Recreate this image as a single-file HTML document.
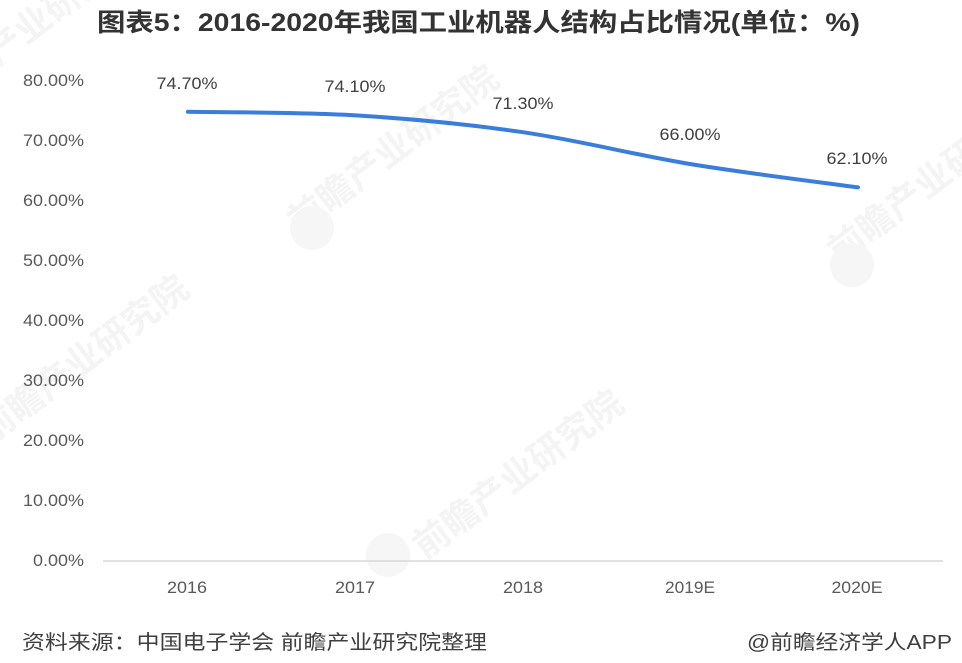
<!DOCTYPE html>
<html>
<head>
<meta charset="utf-8">
<style>
  html,body{margin:0;padding:0;background:#fff;}
  body{width:962px;height:663px;overflow:hidden;}
  svg{display:block;}
  .t{font-family:"Liberation Sans","Noto Sans CJK SC",sans-serif;}
</style>
</head>
<body>
<svg width="962" height="663" viewBox="0 0 962 663" xmlns="http://www.w3.org/2000/svg">
  <rect width="962" height="663" fill="#fff"/>

  <!-- watermarks -->
  <g class="t" fill="#f4f4f4" font-weight="bold">
    <text x="0" y="0" font-size="36" transform="translate(425,560) rotate(-37)">前瞻产业研究院</text>
    <text x="0" y="0" font-size="36" transform="translate(300,235) rotate(-37)">前瞻产业研究院</text>
    <text x="0" y="0" font-size="36" transform="translate(-10,445) rotate(-37)">前瞻产业研究院</text>
    <text x="0" y="0" font-size="36" transform="translate(840,265) rotate(-37)">前瞻产业研究院</text>
    <text x="0" y="0" font-size="36" transform="translate(-60,110) rotate(-37)">前瞻产业研究院</text>
  </g>
  <g fill="#f6f6f6">
    <circle cx="388" cy="555" r="22"/>
    <circle cx="312" cy="228" r="22"/>
    <circle cx="852" cy="265" r="22"/>
  </g>

  <!-- title -->
  <text class="t" x="97" y="31" font-size="25" font-weight="bold" fill="#333" textLength="763" lengthAdjust="spacingAndGlyphs">图表5：2016-2020年我国工业机器人结构占比情况(单位：%)</text>

  <!-- axis line -->
  <line x1="103" y1="561" x2="943" y2="561" stroke="#d9d9d9" stroke-width="1.5"/>

  <!-- y axis labels -->
  <g class="t" font-size="17" fill="#595959" text-anchor="end">
    <text x="84" y="86" textLength="61" lengthAdjust="spacingAndGlyphs">80.00%</text>
    <text x="84" y="146" textLength="61" lengthAdjust="spacingAndGlyphs">70.00%</text>
    <text x="84" y="206" textLength="61" lengthAdjust="spacingAndGlyphs">60.00%</text>
    <text x="84" y="266" textLength="61" lengthAdjust="spacingAndGlyphs">50.00%</text>
    <text x="84" y="326" textLength="61" lengthAdjust="spacingAndGlyphs">40.00%</text>
    <text x="84" y="386" textLength="61" lengthAdjust="spacingAndGlyphs">30.00%</text>
    <text x="84" y="446" textLength="61" lengthAdjust="spacingAndGlyphs">20.00%</text>
    <text x="84" y="506" textLength="61" lengthAdjust="spacingAndGlyphs">10.00%</text>
    <text x="84" y="566" textLength="51" lengthAdjust="spacingAndGlyphs">0.00%</text>
  </g>

  <!-- x axis labels -->
  <g class="t" font-size="17" fill="#595959" text-anchor="middle">
    <text x="187" y="593" textLength="40" lengthAdjust="spacingAndGlyphs">2016</text>
    <text x="355" y="593" textLength="40" lengthAdjust="spacingAndGlyphs">2017</text>
    <text x="523" y="593" textLength="40" lengthAdjust="spacingAndGlyphs">2018</text>
    <text x="690" y="593" textLength="50" lengthAdjust="spacingAndGlyphs">2019E</text>
    <text x="857" y="593" textLength="51" lengthAdjust="spacingAndGlyphs">2020E</text>
  </g>

  <!-- series line -->
  <path d="M188,111.8 C216,112.4 300.2,112 356,115.4 C411.8,118.8 467.3,124.1 523,132.2 C578.7,140.3 634.2,154.8 690,164 C745.8,173.2 830,183.5 858,187.4"
        fill="none" stroke="#3b7ddd" stroke-width="4" stroke-linecap="round" stroke-linejoin="round"/>

  <!-- data labels -->
  <g class="t" font-size="17" fill="#404040" text-anchor="middle">
    <text x="187" y="89" textLength="61" lengthAdjust="spacingAndGlyphs">74.70%</text>
    <text x="355" y="92" textLength="61" lengthAdjust="spacingAndGlyphs">74.10%</text>
    <text x="523" y="109" textLength="61" lengthAdjust="spacingAndGlyphs">71.30%</text>
    <text x="690" y="140" textLength="61" lengthAdjust="spacingAndGlyphs">66.00%</text>
    <text x="857" y="164" textLength="61" lengthAdjust="spacingAndGlyphs">62.10%</text>
  </g>

  <!-- footer -->
  <text class="t" x="22" y="649" font-size="20" fill="#3f3f3f" textLength="465" lengthAdjust="spacingAndGlyphs">资料来源：中国电子学会 前瞻产业研究院整理</text>
  <text class="t" x="747" y="649" font-size="20" fill="#3f3f3f" textLength="205" lengthAdjust="spacingAndGlyphs">@前瞻经济学人APP</text>
</svg>
</body>
</html>
